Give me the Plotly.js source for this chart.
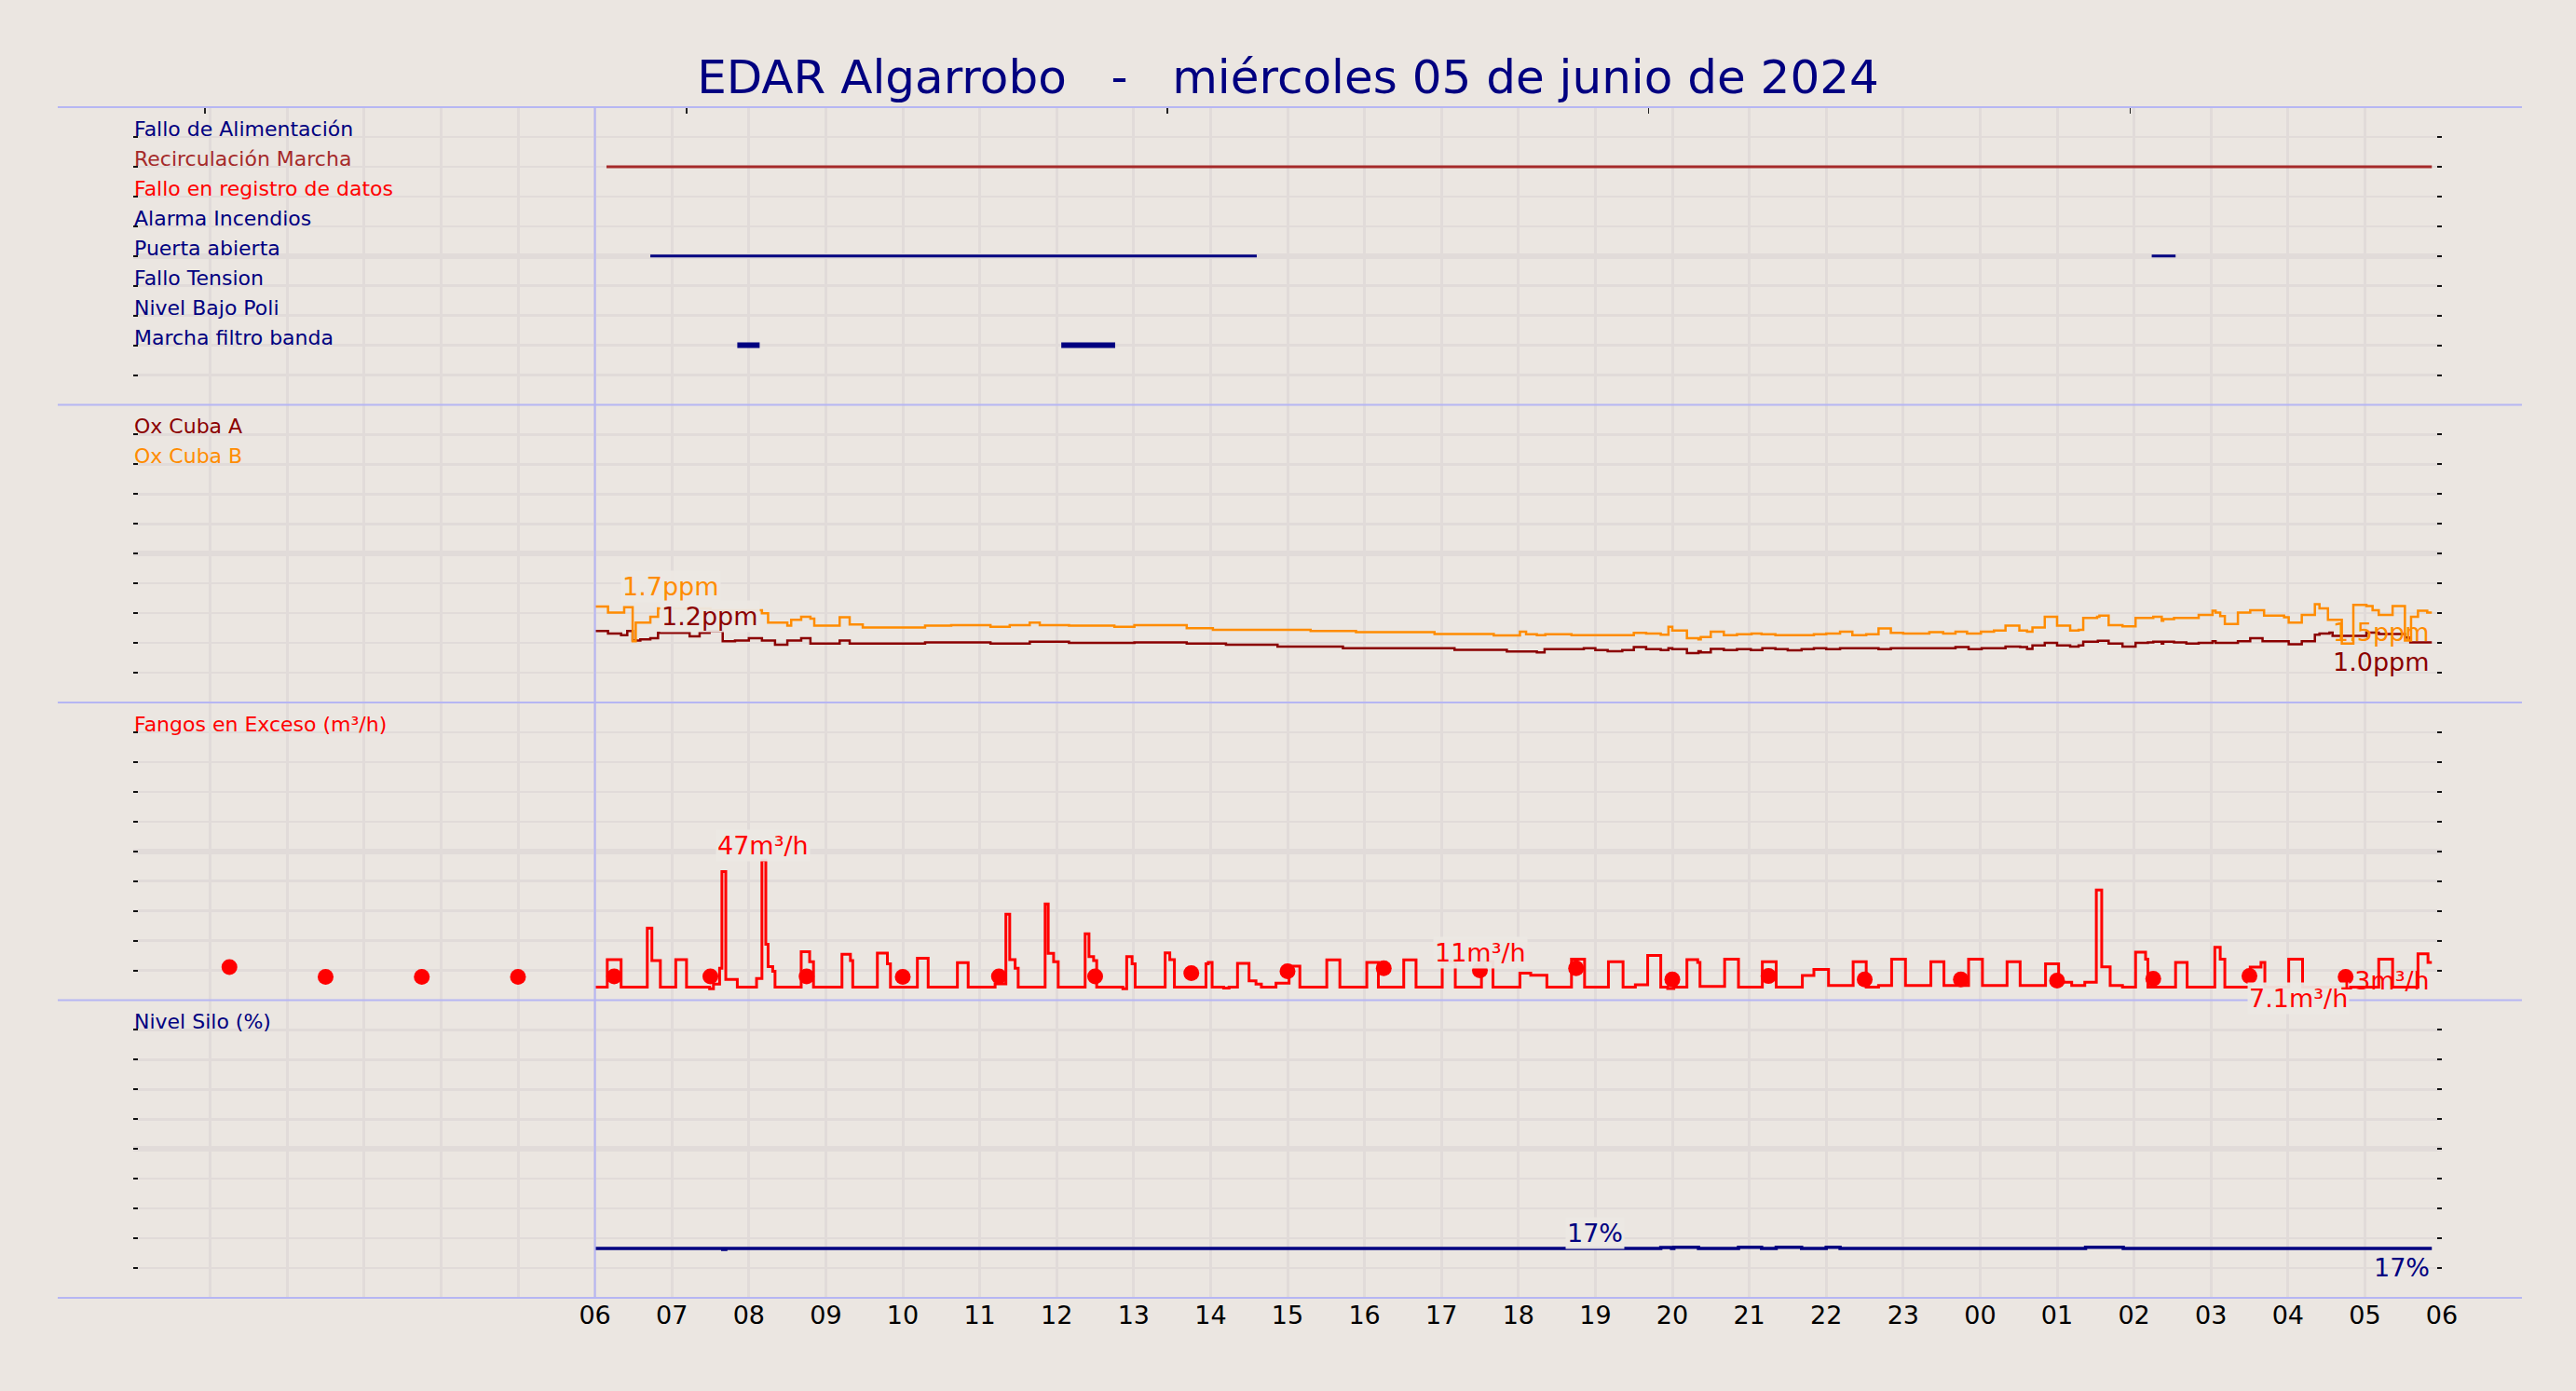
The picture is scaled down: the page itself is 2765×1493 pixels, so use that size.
<!DOCTYPE html>
<html>
<head>
<meta charset="utf-8">
<script src="https://cdn.plot.ly/plotly-3.0.1.min.js"></script>
<style>
  html, body { margin: 0; padding: 0; background: #ebe6e1; }
  #chart { width: 2765px; height: 1493px; }
</style>
</head>
<body>
<div id="chart"></div>
<script>
// ---------------- DATA (hours since 00:00 of 05/06/2024) ----------------
const gridHours = [0,1,2,3,4,5,6,7,8,9,10,11,12,13,14,15,16,17,18,19,20,21,22,23,24,25,26,27,28,29,30];
const gridLabels = ['','','','','','','06','07','08','09','10','11','12','13','14','15','16','17','18','19','20','21','22','23','00','01','02','03','04','05','06'];
const topTickHours = [0.93, 7.19, 13.44, 19.69, 25.95];

// Panel 1 : digital signals (row index)
const signalNames  = ['Fallo de Alimentación','Recirculación Marcha','Fallo en registro de datos','Alarma Incendios','Puerta abierta','Fallo Tension','Nivel Bajo Poli','Marcha filtro banda'];
const signalRows   = [9, 8, 7, 6, 5, 4, 3, 2];
const signalColors = ['#000080','#a52a2a','#ff0000','#000080','#000080','#000080','#000080','#000080'];
const recircX = [6.15, 29.87];
const recircY = [8, 8];
const puertaX = [6.72, 14.6, null, 26.23, 26.54];
const puertaY = [5, 5, null, 5, 5];
const filtroX = [7.85, 8.14, null, 12.06, 12.76];
const filtroY = [2, 2, null, 2, 2];

// Panel 2 : oxygen (ppm)
const oxBX = [6.0,6.17,6.38,6.49,6.53,6.72,6.82,7.5,8.17,8.25,8.5,8.55,8.68,8.8,8.85,9.18,9.31,9.48,10.29,10.63,11.14,11.39,11.65,11.78,12.16,12.75,13.01,13.69,14.03,14.53,15.3,15.89,16.91,17.68,18.02,18.1,18.24,18.35,18.69,19.5,19.66,19.85,19.95,20.0,20.19,20.34,20.37,20.5,20.67,20.84,21.03,21.16,21.34,21.84,22.0,22.18,22.34,22.52,22.68,22.84,23.0,23.34,23.52,23.68,23.83,24.01,24.18,24.33,24.51,24.61,24.68,24.84,25.0,25.17,25.28,25.34,25.52,25.55,25.67,25.85,26.02,26.25,26.36,26.38,26.52,26.84,27.02,27.06,27.12,27.18,27.35,27.51,27.69,27.95,28.01,28.18,28.35,28.41,28.52,28.7,28.85,29.02,29.1,29.18,29.36,29.52,29.6,29.69,29.81,29.87];
const oxBY = [1.61,1.51,1.60,1.03,1.34,1.44,1.58,1.55,1.50,1.34,1.29,1.39,1.44,1.41,1.29,1.43,1.31,1.26,1.29,1.30,1.27,1.30,1.34,1.30,1.29,1.27,1.30,1.25,1.22,1.22,1.20,1.18,1.15,1.125,1.19,1.145,1.13,1.145,1.13,1.17,1.16,1.14,1.27,1.21,1.08,1.06,1.10,1.19,1.13,1.145,1.16,1.145,1.13,1.145,1.16,1.19,1.13,1.145,1.245,1.17,1.16,1.18,1.16,1.19,1.16,1.19,1.21,1.29,1.21,1.19,1.26,1.44,1.29,1.21,1.22,1.42,1.44,1.46,1.30,1.28,1.42,1.44,1.375,1.40,1.42,1.47,1.54,1.51,1.45,1.32,1.51,1.55,1.46,1.43,1.34,1.47,1.65,1.58,1.39,0.99,1.64,1.62,1.55,1.47,1.62,1.04,1.44,1.54,1.51,1.51];
const oxAX = [6.0,6.17,6.34,6.42,6.49,6.59,6.72,6.82,7.23,7.36,7.49,7.66,7.82,8.0,8.17,8.34,8.5,8.68,8.8,9.18,9.31,10.29,11.14,11.65,12.16,13.01,13.69,14.2,14.87,15.72,17.17,17.85,18.24,18.34,18.85,19.0,19.16,19.35,19.5,19.66,19.85,19.95,20.0,20.19,20.34,20.37,20.5,20.67,20.84,21.02,21.17,21.34,21.5,21.68,21.84,22.0,22.18,22.68,22.84,23.68,23.85,24.02,24.33,24.52,24.61,24.68,24.84,25.0,25.17,25.28,25.34,25.53,25.67,25.85,26.02,26.18,26.25,26.36,26.38,26.52,26.68,26.84,27.02,27.06,27.35,27.51,27.67,28.01,28.18,28.35,28.41,28.54,28.58,29.02,29.18,29.52,29.59,29.87];
const oxAY = [1.20,1.16,1.13,1.20,1.04,1.06,1.08,1.17,1.11,1.17,1.20,1.03,1.04,1.08,1.04,0.97,1.04,1.08,0.99,1.04,0.99,1.01,0.99,1.02,1.00,1.01,0.99,0.97,0.94,0.91,0.885,0.855,0.84,0.895,0.91,0.88,0.86,0.88,0.93,0.895,0.88,0.91,0.895,0.83,0.86,0.84,0.90,0.88,0.895,0.88,0.91,0.895,0.875,0.895,0.91,0.895,0.91,0.895,0.91,0.93,0.895,0.91,0.94,0.93,0.90,0.96,1.00,0.96,0.94,0.96,1.02,1.035,0.99,0.94,1.00,1.01,1.02,0.99,1.02,1.01,0.99,1.00,1.03,1.00,1.03,1.08,1.03,0.98,1.03,1.14,1.16,1.175,1.12,1.175,1.15,1.09,1.01,1.01];

// Panel 3 : Fangos en Exceso (m3/h)
const flowX = [6.0,6.16,6.34,6.68,6.74,6.85,7.05,7.19,7.49,7.54,7.62,7.65,7.70,7.85,8.10,8.17,8.22,8.25,8.31,8.34,8.68,8.79,8.84,9.21,9.32,9.35,9.67,9.80,9.84,10.19,10.33,10.71,10.85,11.20,11.34,11.39,11.46,11.50,11.85,11.89,11.96,12.02,12.37,12.42,12.48,12.52,12.86,12.91,12.98,13.02,13.41,13.47,13.53,13.94,13.97,14.02,14.17,14.24,14.35,14.50,14.59,14.66,14.85,15.02,15.16,15.51,15.68,16.03,16.18,16.51,16.67,17.01,17.18,17.52,17.67,18.02,18.16,18.37,18.69,18.86,19.17,19.36,19.52,19.68,19.85,19.94,20.02,20.19,20.33,20.36,20.68,20.86,21.17,21.35,21.69,21.84,22.03,22.35,22.52,22.68,22.85,23.03,23.36,23.53,23.85,24.03,24.35,24.52,24.85,25.02,25.19,25.36,25.51,25.58,25.69,25.85,26.02,26.15,26.18,26.54,26.69,27.05,27.12,27.18,27.51,27.65,27.70,28.01,28.19,29.18,29.36,29.69,29.82,29.87];
const flowY = [4.4,13.6,4.4,24.2,13.3,4.4,13.6,4.4,3.8,5.4,10.7,43.2,7.0,4.4,7.3,47,18.8,11.3,9.7,4.4,16.3,12.9,4.4,15.4,13.3,4.4,15.8,12.2,4.4,14.1,4.4,12.6,4.4,5.5,28.9,13.6,10.7,4.4,32.3,15.7,12.9,4.4,22.3,14.6,13.3,4.4,3.8,14.6,12.2,4.4,15.9,13.6,4.4,12.2,12.7,4.4,4.1,4.4,12.4,6.5,5.4,4.4,5.7,11.4,4.4,13.5,4.4,12.7,4.4,13.5,4.4,13.0,4.4,13.0,4.4,9.1,8.4,4.4,13.8,4.4,12.9,4.4,5.2,15.0,4.4,3.9,4.4,13.6,12.7,4.6,13.8,4.4,12.9,4.4,8.3,10.3,4.9,12.9,4.4,4.9,13.8,4.9,12.9,4.9,13.8,4.9,12.9,4.9,12.2,6.0,4.9,6.0,37,11.2,4.9,4.4,16.1,13.8,4.4,12.7,4.4,17.8,13.8,4.4,11.1,12.7,4.4,13.8,4.4,13.8,4.4,15.6,12.7,12.7];
const dotX = [1.25,2.5,3.75,5.0,6.25,7.5,8.75,10.0,11.25,12.5,13.75,15.0,16.25,17.5,18.75,20.0,21.25,22.5,23.75,25.0,26.25,27.5,28.75];
const dotY = [11.1,7.8,7.8,7.8,8.0,8.0,8.0,7.8,8.0,8.0,9.1,9.7,10.7,10.0,10.7,7.0,8.1,7.0,7.0,6.6,7.2,8.1,7.8];

// Panel 4 : Nivel Silo (%)
const siloX = [6.0,7.66,7.70,19.85,19.99,20.02,20.34,20.86,21.16,21.35,21.68,22.0,22.18,25.37,25.86,29.87];
const siloY = [16.6,16.3,16.6,16.9,16.6,17.0,16.6,17.0,16.6,17.0,16.6,17.0,16.6,17.0,16.6,16.6];

// Value labels
const valueLabels = [
  {ax:'y2', x:6.99,  y:1.7, text:'1.7ppm', color:'#ff8c00', pos:'above', box:true},
  {ax:'y2', x:7.49,  y:1.2, text:'1.2ppm', color:'#8b0000', pos:'above', box:true},
  {ax:'y2', x:29.87, y:1.5, text:'1.5ppm', color:'#ff8c00', pos:'end', box:false},
  {ax:'y2', x:29.87, y:1.0, text:'1.0ppm', color:'#8b0000', pos:'end', box:false},
  {ax:'y3', x:8.19,  y:47,  text:'47m³/h', color:'#ff0000', pos:'above', box:true},
  {ax:'y3', x:17.5,  y:11,  text:'11m³/h', color:'#ff0000', pos:'above', box:true},
  {ax:'y3', x:28.13, y:7.1, text:'7.1m³/h', color:'#ff0000', pos:'below', box:true},
  {ax:'y3', x:29.87, y:13,  text:'13m³/h', color:'#ff0000', pos:'end', box:false},
  {ax:'y4', x:19.0,  y:17,  text:'17%', color:'#000080', pos:'above', box:true},
  {ax:'y4', x:29.87, y:16.6, text:'17%', color:'#000080', pos:'end', box:false}
];

// ---------------- STYLE ----------------
const BG = '#ebe6e1';
const GRID = '#e1dbd9';
const DIV = '#b6b6f3';
const NAVY = '#000080';
const FONT = 'DejaVu Sans';

const traces = [
  {x: recircX, y: recircY, xaxis:'x', yaxis:'y', mode:'lines', line:{color:'#a52a2a', width:3}, hoverinfo:'skip'},
  {x: puertaX, y: puertaY, xaxis:'x', yaxis:'y', mode:'lines', line:{color:NAVY, width:3}, hoverinfo:'skip'},
  {x: filtroX, y: filtroY, xaxis:'x', yaxis:'y', mode:'lines', line:{color:NAVY, width:6}, hoverinfo:'skip'},
  {x: oxAX, y: oxAY, xaxis:'x', yaxis:'y2', mode:'lines', line:{color:'#8b0000', width:2.5, shape:'hv'}, hoverinfo:'skip'},
  {x: oxBX, y: oxBY, xaxis:'x', yaxis:'y2', mode:'lines', line:{color:'#ff8c00', width:2.5, shape:'hv'}, hoverinfo:'skip'},
  {x: flowX, y: flowY, xaxis:'x', yaxis:'y3', mode:'lines', line:{color:'#ff0000', width:3, shape:'hv'}, hoverinfo:'skip'},
  {x: dotX, y: dotY, xaxis:'x', yaxis:'y3', mode:'markers', marker:{color:'#ff0000', size:17}, hoverinfo:'skip'},
  {x: siloX, y: siloY, xaxis:'x', yaxis:'y4', mode:'lines', line:{color:NAVY, width:3.5, shape:'hv'}, hoverinfo:'skip'}
];

function yAxis(domain, range, major, minor) {
  return {
    domain: domain, range: range, anchor: 'x', fixedrange: true,
    dtick: major, tick0: 0, showgrid: true, gridcolor: GRID, gridwidth: 6,
    ticks: 'inside', ticklen: 5, tickwidth: 2, tickcolor: '#111', mirror: 'ticks',
    showline: false, zeroline: false, showticklabels: false,
    minor: {dtick: minor, tick0: 0, showgrid: true, gridcolor: GRID, gridwidth: 2.5,
            ticks: 'inside', ticklen: 5, tickwidth: 2, tickcolor: '#111'}
  };
}

const annotations = [];
signalNames.forEach((n, i) => annotations.push({
  xref:'paper', x:0, xanchor:'left', yref:'y', y:signalRows[i], yanchor:'bottom', yshift:-5,
  text:n, showarrow:false, borderpad:0, font:{family:FONT, size:22, color:signalColors[i]}
}));
const panelTitles = [
  {ax:'y2', y:4.5, text:'Ox Cuba A', color:'#8b0000'},
  {ax:'y2', y:4.0, text:'Ox Cuba B', color:'#ff8c00'},
  {ax:'y3', y:90, text:'Fangos en Exceso (m³/h)', color:'#ff0000'},
  {ax:'y4', y:90, text:'Nivel Silo (%)', color:NAVY}
];
panelTitles.forEach(p => annotations.push({
  xref:'paper', x:0, xanchor:'left', yref:p.ax, y:p.y, yanchor:'bottom', yshift:-5,
  text:p.text, showarrow:false, borderpad:0, font:{family:FONT, size:22, color:p.color}
}));
valueLabels.forEach(v => {
  const a = {xref:'x', x:v.x, yref:v.ax, y:v.y, text:v.text, showarrow:false,
    font:{family:FONT, size:27, color:v.color}, borderpad:1};
  if (v.pos === 'above') { a.xanchor = 'center'; a.yanchor = 'bottom'; a.yshift = -2; }
  else if (v.pos === 'below') { a.xanchor = 'center'; a.yanchor = 'top'; a.yshift = -3; }
  else { a.xanchor = 'right'; a.yanchor = 'top'; a.yshift = -3; }
  if (v.box) a.bgcolor = 'rgba(236,232,227,0.95)';
  annotations.push(a);
});

const shapes = [];
[0, 0.25, 0.5, 0.75, 1].forEach(p => shapes.push({
  type:'line', xref:'paper', yref:'paper', x0:-0.0327, x1:1.0347, y0:p, y1:p,
  line:{color:DIV, width:2}, layer:'above'
}));
shapes.push({type:'line', xref:'x', yref:'paper', x0:6, x1:6, y0:0, y1:1, line:{color:DIV, width:2}, layer:'above'});

const layout = {
  width: 2765, height: 1493,
  paper_bgcolor: BG, plot_bgcolor: BG,
  margin: {l:143, r:144, t:115, b:100, pad:0},
  showlegend: false,
  font: {family: FONT, color:'#000'},
  title: {text:'EDAR Algarrobo\u00a0\u00a0\u00a0-\u00a0\u00a0\u00a0miércoles 05 de junio de 2024',
          font:{family:FONT, size:50, color:NAVY}, x:0.5, xanchor:'center',
          y: 1 - 82/1493, yanchor:'middle', yref:'container'},
  xaxis: {
    domain:[0,1], range:[0,30], anchor:'y4', fixedrange:true,
    tickmode:'array', tickvals: gridHours, ticktext: gridLabels,
    showgrid:true, gridcolor:GRID, gridwidth:3, ticks:'', showline:false, zeroline:false,
    tickfont:{family:FONT, size:27, color:'#000'}
  },
  xaxis2: {
    overlaying:'x', anchor:'y', side:'top', range:[0,30], fixedrange:true,
    tickmode:'array', tickvals: topTickHours, ticks:'inside', ticklen:7, tickwidth:1.5, tickcolor:'#222',
    showticklabels:false, showgrid:false, zeroline:false, showline:false
  },
  yaxis:  yAxis([0.75, 1], [0, 10], 5, 1),
  yaxis2: yAxis([0.5, 0.75], [0, 5], 2.5, 0.5),
  yaxis3: yAxis([0.25, 0.5], [0, 100], 50, 10),
  yaxis4: yAxis([0, 0.25], [0, 100], 50, 10),
  annotations: annotations,
  shapes: shapes
};

traces.push({x:[null], y:[null], xaxis:'x2', yaxis:'y', mode:'lines', hoverinfo:'skip', showlegend:false});

Plotly.newPlot('chart', traces, layout, {staticPlot:true, displayModeBar:false});
</script>
</body>
</html>
